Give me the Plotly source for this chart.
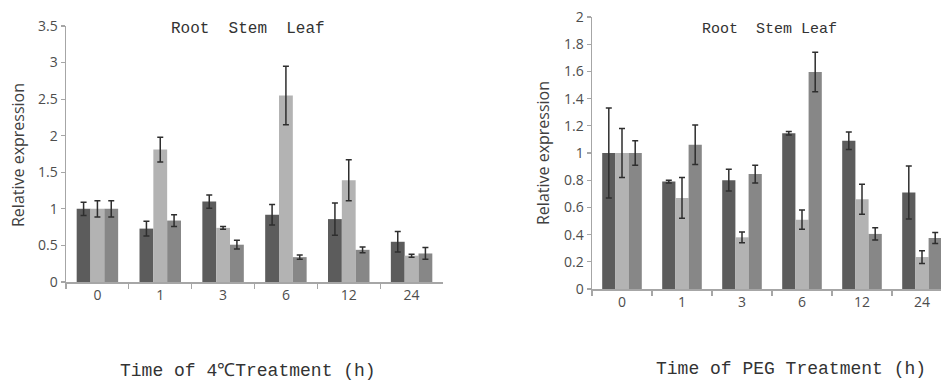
import plotly.graph_objects as go

W, H = 941, 381

categories = ["0", "1", "3", "6", "12", "24"]

# 4 °C treatment
cold_root = [1.00, 0.73, 1.10, 0.92, 0.86, 0.55]
cold_root_err = [0.09, 0.10, 0.09, 0.14, 0.22, 0.14]
cold_stem = [1.00, 1.81, 0.74, 2.55, 1.39, 0.36]
cold_stem_err = [0.11, 0.17, 0.02, 0.40, 0.28, 0.02]
cold_leaf = [1.00, 0.84, 0.51, 0.34, 0.44, 0.39]
cold_leaf_err = [0.11, 0.08, 0.06, 0.03, 0.04, 0.08]

# PEG treatment
peg_root = [1.00, 0.79, 0.80, 1.145, 1.09, 0.71]
peg_root_err = [0.33, 0.01, 0.08, 0.013, 0.065, 0.195]
peg_stem = [1.00, 0.67, 0.38, 0.51, 0.66, 0.235]
peg_stem_err = [0.18, 0.15, 0.04, 0.07, 0.11, 0.047]
peg_leaf = [1.00, 1.06, 0.845, 1.595, 0.405, 0.375]
peg_leaf_err = [0.09, 0.145, 0.065, 0.145, 0.045, 0.04]

colors = {"Root": "#5c5c5c", "Stem": "#b3b3b3", "Leaf": "#878787"}
ERR_COLOR = "#2e2e2e"
AXIS_COLOR = "#a6a6a6"
TICK_FONT = dict(family="Open Sans", size=14, color="#4d4d4d")
MONO = "Liberation Mono"

fig = go.Figure()


def add_group(vals, errs, name, xa, ya):
    fig.add_trace(go.Bar(
        x=categories, y=vals, name=name,
        marker=dict(color=colors[name], line=dict(width=0)),
        error_y=dict(type="data", array=errs, visible=True,
                     color=ERR_COLOR, thickness=1.5, width=3),
        xaxis=xa, yaxis=ya, showlegend=False,
    ))


add_group(cold_root, cold_root_err, "Root", "x", "y")
add_group(cold_stem, cold_stem_err, "Stem", "x", "y")
add_group(cold_leaf, cold_leaf_err, "Leaf", "x", "y")
add_group(peg_root, peg_root_err, "Root", "x2", "y2")
add_group(peg_stem, peg_stem_err, "Stem", "x2", "y2")
add_group(peg_leaf, peg_leaf_err, "Leaf", "x2", "y2")


def px_x(p):
    return p / W


def px_y(p):
    return 1 - p / H


xcommon = dict(type="category", showline=True, linecolor=AXIS_COLOR, linewidth=1.5,
               ticks="outside", tickson="boundaries", ticklen=5, tickcolor=AXIS_COLOR,
               tickwidth=1.2, showgrid=False, zeroline=False, tickfont=TICK_FONT,
               fixedrange=True, automargin=False)
ycommon = dict(showline=True, linecolor=AXIS_COLOR, linewidth=1.5, ticks="outside",
               ticklen=4, tickcolor=AXIS_COLOR, tickwidth=1.2, showgrid=False,
               zeroline=False, tickfont=TICK_FONT, fixedrange=True, automargin=False)

fig.update_layout(
    width=W, height=H,
    margin=dict(l=0, r=0, t=0, b=0, pad=0, autoexpand=False),
    paper_bgcolor="white", plot_bgcolor="white",
    barmode="group", bargap=0.34, bargroupgap=0,
    xaxis=dict(domain=[px_x(66), px_x(443)], range=[-0.5, 5.5], anchor="y", **xcommon),
    yaxis=dict(domain=[px_y(282), px_y(26)], range=[0, 3.5], dtick=0.5, anchor="x", **ycommon),
    xaxis2=dict(domain=[px_x(592), 1.0], range=[-0.5, 5.5 - 11 / 60], anchor="y2", **xcommon),
    yaxis2=dict(domain=[px_y(289), px_y(17)], range=[0, 2], dtick=0.2, anchor="x2", **ycommon),
)

ann = [
    dict(text="Root\u00a0\u00a0Stem\u00a0\u00a0Leaf", x=px_x(248), y=px_y(29),
         font=dict(family=MONO, size=16, color="#333333")),
    dict(text="Root\u00a0\u00a0Stem\u00a0Leaf", x=px_x(769), y=px_y(29),
         font=dict(family=MONO, size=15, color="#333333")),
    dict(text="Time of 4℃Treatment (h)", x=px_x(248), y=px_y(371),
         font=dict(family=MONO, size=18, color="#333333")),
    dict(text="Time of PEG Treatment (h)", x=px_x(791), y=px_y(369),
         font=dict(family=MONO, size=18, color="#333333")),
    dict(text="Relative expression", x=px_x(18), y=px_y(155), textangle=-90,
         font=dict(family="Open Sans", size=16, color="#404040")),
    dict(text="Relative expression", x=px_x(543), y=px_y(153), textangle=-90,
         font=dict(family="Open Sans", size=16, color="#404040")),
]
for a in ann:
    fig.add_annotation(xref="paper", yref="paper", showarrow=False,
                       xanchor="center", yanchor="middle", **a)

fig.write_html(
    "out.html",
    config={"displayModeBar": False, "staticPlot": True},
    post_script="document.body.style.margin='0';document.body.style.padding='0';"
                "document.body.style.overflow='hidden';",
)
